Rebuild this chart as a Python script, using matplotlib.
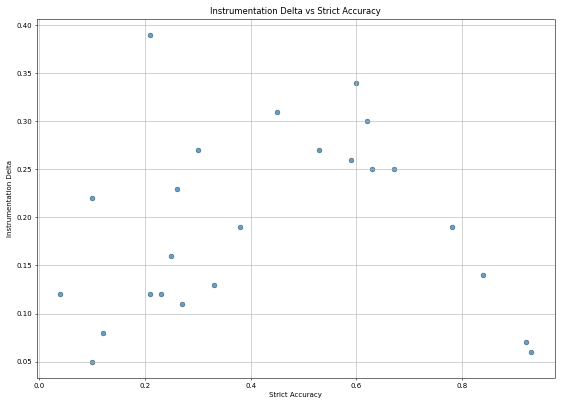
import matplotlib
matplotlib.use("Agg")
import matplotlib.pyplot as plt

strict_accuracy = [0.21, 0.60, 0.45, 0.62, 0.30, 0.53, 0.59, 0.63, 0.67, 0.26, 0.10, 0.38,
                   0.78, 0.25, 0.84, 0.04, 0.21, 0.23, 0.33, 0.27, 0.12, 0.10, 0.92, 0.93]
instr_delta = [0.39, 0.34, 0.31, 0.30, 0.27, 0.27, 0.26, 0.25, 0.25, 0.23, 0.22, 0.19,
               0.19, 0.16, 0.14, 0.12, 0.12, 0.12, 0.13, 0.11, 0.08, 0.05, 0.07, 0.06]

fig, ax = plt.subplots(figsize=(11.24, 8.1), dpi=50)
ax.scatter(strict_accuracy, instr_delta, s=50, color='tab:blue', alpha=0.7, edgecolors='k', linewidths=0.5)
ax.set_title('Instrumentation Delta vs Strict Accuracy')
ax.set_xlabel('Strict Accuracy')
ax.set_ylabel('Instrumentation Delta')
ax.grid(True)
plt.tight_layout()
plt.savefig('out.png')
